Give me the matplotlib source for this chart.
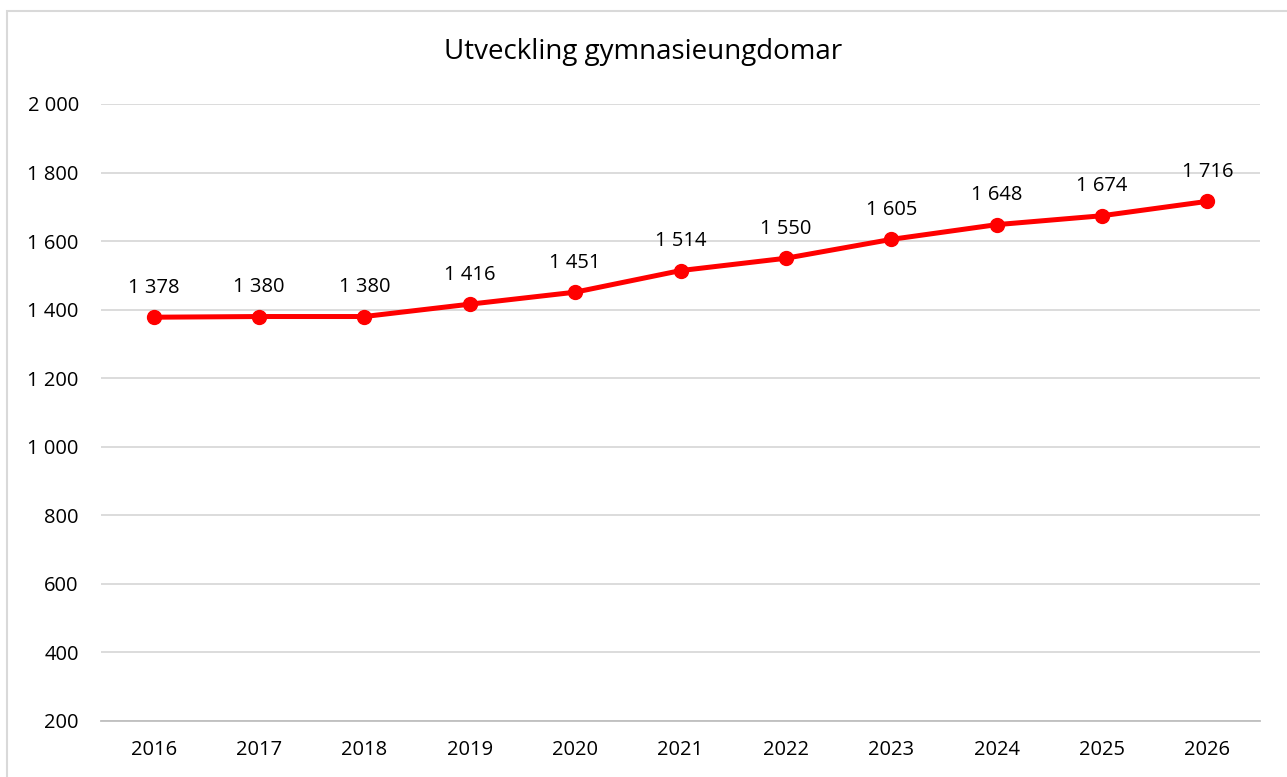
#!/usr/bin/env python3
"""Utveckling gymnasieungdomar — line chart"""
import matplotlib
matplotlib.use('Agg')
import matplotlib.pyplot as plt
from matplotlib.patches import Rectangle
from matplotlib.ticker import FuncFormatter

years = ['2016', '2017', '2018', '2019', '2020', '2021',
         '2022', '2023', '2024', '2025', '2026']
values = [1378, 1380, 1380, 1416, 1451, 1514, 1550, 1605, 1648, 1674, 1716]
yticks = [200, 400, 600, 800, 1000, 1200, 1400, 1600, 1800, 2000]


def sv(v, pos=None):
    return f'{int(v):,}'.replace(',', ' ')


plt.rcParams['font.family'] = ['Open Sans', 'DejaVu Sans']

fig = plt.figure(figsize=(12.87, 7.77), dpi=100)
ax = fig.add_axes([101/1287, 1 - 721/777, 1159/1287, 617/777])

# chart-area border
fig.patches.append(Rectangle((7/1287, -0.05), 1.2, 1 - 11/777 + 0.05,
                             transform=fig.transFigure, fill=False,
                             edgecolor='#d9d9d9', linewidth=1.5))

x = list(range(len(years)))
ax.plot(x, values, color='#ff0000', linewidth=3.6, marker='o',
        markersize=10, solid_capstyle='round', zorder=3)
for xi, v in zip(x, values):
    ax.annotate(sv(v), (xi, v), xytext=(0, 14), textcoords='offset points',
                ha='center', va='bottom', fontsize=14.5, color='#000000')

ax.set_xlim(-0.5, len(years) - 0.5)
ax.set_ylim(200, 2000)
ax.set_yticks(yticks)
ax.yaxis.set_major_formatter(FuncFormatter(sv))
ax.set_xticks(x)
ax.set_xticklabels(years)
ax.grid(axis='y', color='#d9d9d9', linewidth=1.3)
ax.set_axisbelow(True)
for s in ['top', 'right', 'left']:
    ax.spines[s].set_visible(False)
ax.spines['bottom'].set_color('#bfbfbf')
ax.spines['bottom'].set_linewidth(1.3)
ax.tick_params(length=0, labelsize=14.5, colors='#000000')
ax.tick_params(axis='y', pad=16)
ax.tick_params(axis='x', pad=14)

fig.text(0.5, 1 - 52/777, 'Utveckling gymnasieungdomar', ha='center',
         va='center', fontsize=20)

plt.savefig('out.png', dpi=100)
plt.close()
